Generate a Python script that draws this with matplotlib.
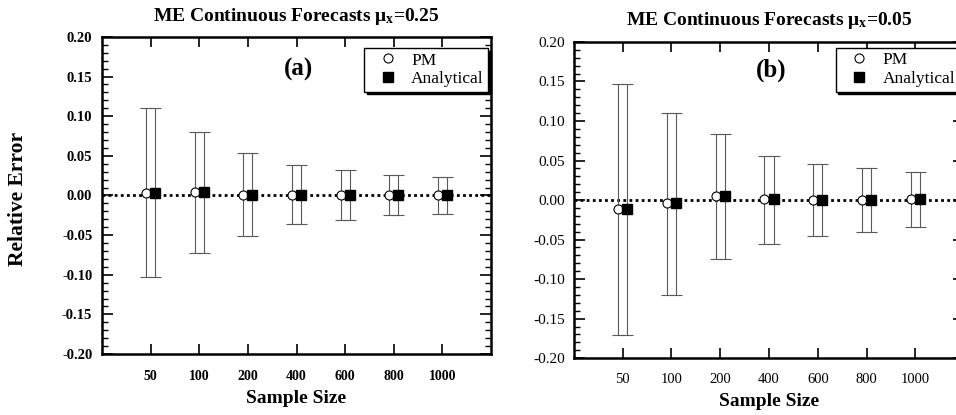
import matplotlib
matplotlib.use('Agg')
import matplotlib.pyplot as plt
from matplotlib.ticker import MultipleLocator

plt.rcParams['font.family'] = ['Liberation Serif', 'DejaVu Serif']
plt.rcParams['mathtext.fontset'] = 'stix'

# data
sizes = ['50', '100', '200', '400', '600', '800', '1000']

# panel (a), mu_x = 0.25
a_pm = [0.003, 0.004, 0.001, 0.001, 0.000, 0.000, 0.000]
a_an = [0.003, 0.004, 0.001, 0.001, 0.000, 0.000, 0.000]
a_low = [-0.103, -0.072, -0.051, -0.036, -0.031, -0.025, -0.023]
a_up = [0.110, 0.080, 0.054, 0.038, 0.032, 0.026, 0.023]

# panel (b), mu_x = 0.05
b_pm = [-0.011, -0.004, 0.005, 0.001, 0.000, 0.000, 0.001]
b_an = [-0.011, -0.004, 0.005, 0.001, 0.000, 0.000, 0.001]
b_low = [-0.171, -0.120, -0.074, -0.055, -0.046, -0.041, -0.034]
b_up = [0.147, 0.110, 0.083, 0.056, 0.046, 0.041, 0.036]

fig = plt.figure(figsize=(9.56, 4.15), dpi=100)
ax1 = fig.add_axes([0.1067, 0.147, 0.407, 0.764])
ax2 = fig.add_axes([0.6004, 0.137, 0.408, 0.762])

off = 0.093


def panel(ax, pm, an, low, up, title, tag, bold, lsize, tpad, xpad, ylpad, leg_xy, tag_y):
    x = list(range(len(sizes)))
    xp = [i - off for i in x]
    xa = [i + off for i in x]
    ax.axhline(0, color='black', lw=2, ls=(0, (1, 1.2)), zorder=1)
    for xs, ys in ((xp, pm), (xa, an)):
        err = [[c - l for c, l in zip(ys, low)], [u - c for c, u in zip(ys, up)]]
        ax.errorbar(xs, ys, yerr=err, fmt='none', ecolor='0.35', elinewidth=0.8,
                    capsize=4.5, capthick=0.8, zorder=2)
    ax.plot(xp, pm, 'o', ms=6.5, mfc='white', mec='black', mew=0.8, ls='none', label='PM', zorder=3)
    ax.plot(xa, an, 's', ms=6.5, mfc='black', mec='black', ls='none', label='Analytical', zorder=3)

    ax.set_xlim(-1, 7)
    ax.set_ylim(-0.2, 0.2)
    ax.set_xticks(x)
    ax.set_xticklabels(sizes)
    ax.yaxis.set_major_locator(MultipleLocator(0.05))
    ax.yaxis.set_minor_locator(MultipleLocator(0.01))
    ax.yaxis.set_major_formatter(plt.FormatStrFormatter('%.2f'))
    ax.tick_params(axis='y', which='major', direction='in', length=8, width=1.2,
                   left=True, right=True, labelsize=lsize, pad=ylpad)
    ax.tick_params(axis='y', which='minor', direction='in', length=4, width=1,
                   left=True, right=True)
    ax.tick_params(axis='x', which='major', direction='in', length=7, width=1.2,
                   bottom=True, top=True, labelsize=lsize - 0.5, pad=xpad)
    w = 'bold' if bold else 'normal'
    for lab in ax.get_xticklabels() + ax.get_yticklabels():
        lab.set_fontweight(w)
    for s in ax.spines.values():
        s.set_linewidth(1.8)

    ax.set_title(title, fontsize=14, fontweight='bold', pad=tpad)
    ax.set_xlabel('Sample Size', fontsize=14, fontweight='bold', labelpad=5)
    ax.text(0.505, tag_y, tag, transform=ax.transAxes, fontsize=18, fontweight='bold',
            ha='center', va='center')
    leg = ax.legend(loc='upper right', bbox_to_anchor=leg_xy, fancybox=False,
                    shadow={'color': 'black', 'alpha': 1}, edgecolor='black',
                    framealpha=1, fontsize=12.5, handlelength=2.2, handletextpad=0.25,
                    borderpad=0.25, labelspacing=0.15, borderaxespad=0, numpoints=1)
    leg.get_frame().set_linewidth(1.0)
    return ax


panel(ax1, a_pm, a_an, a_low, a_up, r'ME Continuous Forecasts $\mathregular{\mu_x}$=0.25', '(a)',
      True, 10.5, 11.5, 11.5, 7, (0.992, 0.965), 0.897)
panel(ax2, b_pm, b_an, b_low, b_up, r'ME Continuous Forecasts $\mathregular{\mu_x}$=0.05', '(b)',
      False, 11, 12, 11, 6.5, (0.988, 0.981), 0.91)
ax1.set_ylabel('Relative Error', fontsize=15.5, fontweight='bold')
ax1.yaxis.set_label_coords(-0.19, 0.49)

fig.savefig('out.png', dpi=100)
